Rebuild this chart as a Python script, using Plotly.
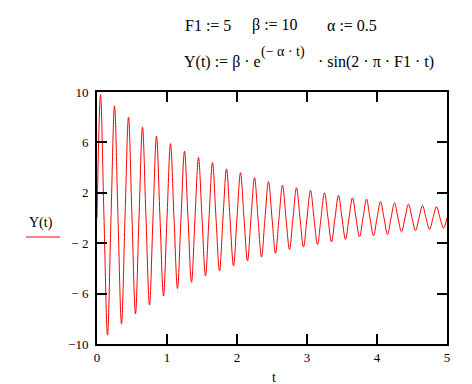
import plotly.graph_objects as go

# sample times (s): zero crossings, peaks and troughs
t = [0.00, 0.05, 0.10, 0.15, 0.20, 0.25, 0.30, 0.35, 0.40, 0.45,
     0.50, 0.55, 0.60, 0.65, 0.70, 0.75, 0.80, 0.85, 0.90, 0.95,
     1.00, 1.05, 1.10, 1.15, 1.20, 1.25, 1.30, 1.35, 1.40, 1.45,
     1.50, 1.55, 1.60, 1.65, 1.70, 1.75, 1.80, 1.85, 1.90, 1.95,
     2.00, 2.05, 2.10, 2.15, 2.20, 2.25, 2.30, 2.35, 2.40, 2.45,
     2.50, 2.55, 2.60, 2.65, 2.70, 2.75, 2.80, 2.85, 2.90, 2.95,
     3.00, 3.05, 3.10, 3.15, 3.20, 3.25, 3.30, 3.35, 3.40, 3.45,
     3.50, 3.55, 3.60, 3.65, 3.70, 3.75, 3.80, 3.85, 3.90, 3.95,
     4.00, 4.05, 4.10, 4.15, 4.20, 4.25, 4.30, 4.35, 4.40, 4.45,
     4.50, 4.55, 4.60, 4.65, 4.70, 4.75, 4.80, 4.85, 4.90, 4.95,
     5.00]

# Y(t) values read at those times
Y = [0, 9.8, 0, -9.3, 0, 8.9, 0, -8.4, 0, 8.0,
     0, -7.6, 0, 7.2, 0, -6.9, 0, 6.5, 0, -6.2,
     0, 5.9, 0, -5.6, 0, 5.3, 0, -5.1, 0, 4.8,
     0, -4.6, 0, 4.4, 0, -4.2, 0, 3.9, 0, -3.8,
     0, 3.6, 0, -3.4, 0, 3.2, 0, -3.1, 0, 2.9,
     0, -2.8, 0, 2.6, 0, -2.5, 0, 2.4, 0, -2.3,
     0, 2.2, 0, -2.1, 0, 2.0, 0, -1.9, 0, 1.8,
     0, -1.7, 0, 1.6, 0, -1.5, 0, 1.5, 0, -1.4,
     0, 1.3, 0, -1.3, 0, 1.2, 0, -1.1, 0, 1.1,
     0, -1.0, 0, 1.0, 0, -0.9, 0, 0.9, 0, -0.8,
     0]

x_ticks = [0, 1, 2, 3, 4, 5]
y_ticks = [10, 6, 2, -2, -6, -10]
y_tick_text = ["10", "6", "2", "\u2212 2", "\u2212 6", "\u221210"]

SERIF = "Liberation Serif, Times New Roman, serif"
W, H = 472, 384
L, R, T, B = 97, 25, 92, 40


def px(x):
    return (x - L) / (W - L - R)


def py(y):
    return (H - y - B) / (H - T - B)


fig = go.Figure()
fig.add_trace(go.Scatter(
    x=t, y=Y, mode="lines",
    line=dict(color="#ff0000", width=1, shape="spline", smoothing=1.0),
    showlegend=False, hoverinfo="skip",
))

axis_common = dict(
    showline=True, linecolor="black", linewidth=2, mirror="ticks",
    ticks="inside", ticklen=10, tickwidth=1.5, tickcolor="black",
    showgrid=False, zeroline=False,
    tickfont=dict(family=SERIF, size=13, color="black"),
)

fig.update_xaxes(range=[0, 5], tickvals=x_ticks, ticktext=[str(v) for v in x_ticks],
                 **axis_common)
fig.update_yaxes(range=[-10, 10], tickvals=y_ticks, ticktext=y_tick_text,
                 ticklabelstandoff=4, **axis_common)

fig.update_layout(
    width=W, height=H,
    margin=dict(l=L, r=R, t=T, b=B),
    paper_bgcolor="white", plot_bgcolor="white",
    font=dict(family=SERIF, color="black"),
)

texts = [
    # (text, left x px, center y px, size)
    ("F1 := 5", 183, 25, 16),
    ("\u03b2 := 10", 250, 25, 16),
    ("\u03b1 := 0.5", 325, 25, 16),
    ("Y(t) := \u03b2 \u00b7 e", 182, 62, 16),
    ("(\u2212 \u03b1 \u00b7 t)", 259, 52, 14),
    ("\u00b7 sin(2 \u00b7 \u03c0 \u00b7 F1 \u00b7 t)", 316, 62, 16),
]
for txt, x, y, s in texts:
    fig.add_annotation(text=txt, xref="paper", yref="paper",
                       x=px(x), y=py(y), xanchor="left", yanchor="middle",
                       showarrow=False,
                       font=dict(family=SERIF, size=s, color="black"))

# Y axis label with trace indicator line
fig.add_annotation(text="Y(t)", xref="paper", yref="paper",
                   x=px(41), y=py(223), xanchor="center", yanchor="middle",
                   showarrow=False, font=dict(family=SERIF, size=14, color="black"))
fig.add_shape(type="line", xref="paper", yref="paper",
              x0=px(26), x1=px(60), y0=py(237), y1=py(237),
              line=dict(color="#ff0000", width=1))
# X axis label
fig.add_annotation(text="t", xref="paper", yref="paper",
                   x=px(274), y=py(377), xanchor="center", yanchor="middle",
                   showarrow=False, font=dict(family=SERIF, size=14, color="black"))

fig.write_html("out.html", config={"displayModeBar": False},
               post_script="document.body.style.margin='0';document.body.style.padding='0';")
